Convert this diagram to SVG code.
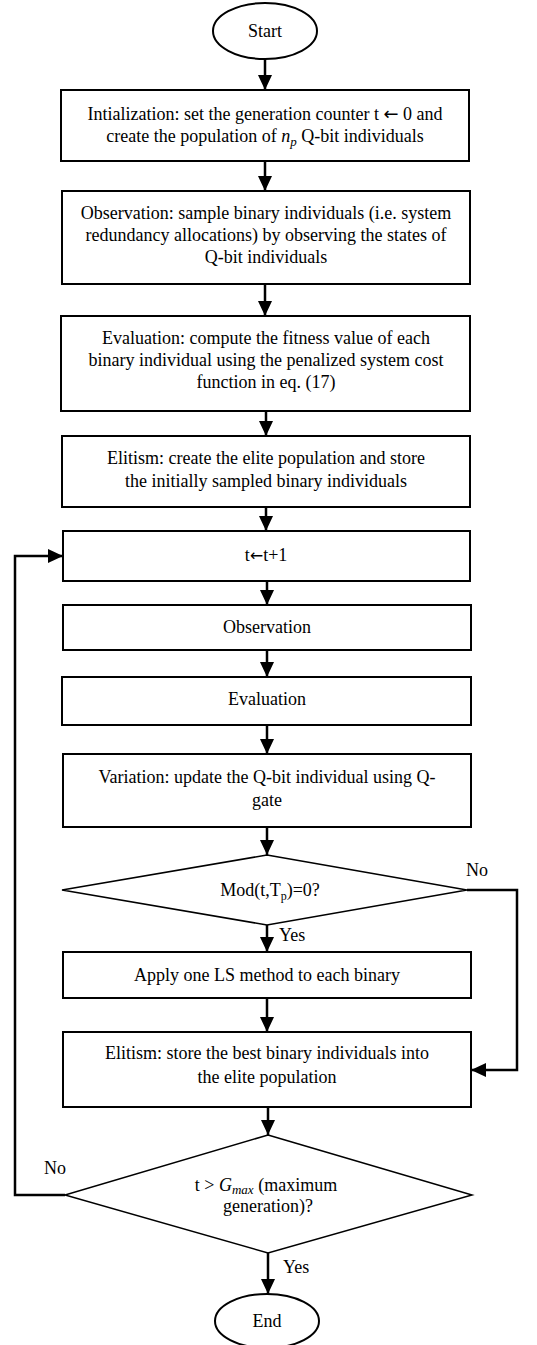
<svg xmlns="http://www.w3.org/2000/svg" width="537" height="1345" viewBox="0 0 537 1345">
<style>
.box{fill:#fff;stroke:#000;stroke-width:2}
.dia{fill:#fff;stroke:#000;stroke-width:1.5}
.t{font-family:"Liberation Serif","Times New Roman",serif;font-size:18px;fill:#000;text-anchor:middle}
.lbl{font-family:"Liberation Serif","Times New Roman",serif;font-size:18px;fill:#000}
.c{fill:none;stroke:#000;stroke-width:2.5}
.ar{font-family:"DejaVu Sans",sans-serif}
</style>
<defs>
<marker id="ah" markerUnits="userSpaceOnUse" viewBox="0 0 15 14" refX="15" refY="7" markerWidth="15" markerHeight="14" orient="auto">
<path d="M0,0 L15,7 L0,14 z" fill="#000"/>
</marker>
</defs>
<rect width="537" height="1345" fill="#fff"/>
<g id="connectors">
<path class="c" d="M265,59 V90" marker-end="url(#ah)"/>
<path class="c" d="M265,161 V191" marker-end="url(#ah)"/>
<path class="c" d="M265,284 V316" marker-end="url(#ah)"/>
<path class="c" d="M266,411 V436" marker-end="url(#ah)"/>
<path class="c" d="M266,507 V531" marker-end="url(#ah)"/>
<path class="c" d="M267,581 V605" marker-end="url(#ah)"/>
<path class="c" d="M267,650 V677" marker-end="url(#ah)"/>
<path class="c" d="M267,725 V754" marker-end="url(#ah)"/>
<path class="c" d="M267,827 V855" marker-end="url(#ah)"/>
<path class="c" d="M267,925 V952" marker-end="url(#ah)"/>
<path class="c" d="M267,998 V1032" marker-end="url(#ah)"/>
<path class="c" d="M268,1107 V1135" marker-end="url(#ah)"/>
<path class="c" d="M268,1253 V1294" marker-end="url(#ah)"/>
<path class="c" d="M467,890 H517 V1070 H471" marker-end="url(#ah)"/>
<path class="c" d="M65,1195 H15 V556 H63" marker-end="url(#ah)"/>
<text class="lbl" x="466" y="876">No</text>
<text class="lbl" x="279" y="941">Yes</text>
<text class="lbl" x="44" y="1174">No</text>
<text class="lbl" x="283" y="1273">Yes</text>
</g>
<g id="start">
<ellipse class="box" cx="265" cy="31" rx="52" ry="28"/>
<text class="t" x="265" y="37">Start</text>
</g>
<g id="init">
<rect class="box" x="61" y="90" width="408" height="71"/>
<text class="t" x="265" y="120">Intialization: set the generation counter t <tspan class="ar">←</tspan> 0 and</text>
<text class="t" x="265" y="142">create the population of <tspan font-style="italic">n</tspan><tspan font-style="italic" font-size="13" dy="4">p</tspan><tspan dy="-4"> Q-bit individuals</tspan></text>
</g>
<g id="observation1">
<rect class="box" x="62" y="191" width="408" height="93"/>
<text class="t" x="266" y="219">Observation: sample binary individuals (i.e. system</text>
<text class="t" x="266" y="241">redundancy allocations) by observing the states of</text>
<text class="t" x="266" y="263">Q-bit individuals</text>
</g>
<g id="evaluation1">
<rect class="box" x="61" y="316" width="409" height="95"/>
<text class="t" x="266" y="344">Evaluation: compute the fitness value of each</text>
<text class="t" x="266" y="366">binary individual using the penalized system cost</text>
<text class="t" x="266" y="388">function in eq. (17)</text>
</g>
<g id="elitism1">
<rect class="box" x="62" y="436" width="408" height="71"/>
<text class="t" x="266" y="464">Elitism: create the elite population and store</text>
<text class="t" x="266" y="487">the initially sampled binary individuals</text>
</g>
<g id="increment">
<rect class="box" x="63" y="531" width="407" height="50"/>
<text class="t" x="266" y="561">t<tspan class="ar" font-size="16">←</tspan>t+1</text>
</g>
<g id="observation2">
<rect class="box" x="63" y="605" width="408" height="45"/>
<text class="t" x="267" y="633">Observation</text>
</g>
<g id="evaluation2">
<rect class="box" x="62" y="677" width="409" height="48"/>
<text class="t" x="267" y="705">Evaluation</text>
</g>
<g id="variation">
<rect class="box" x="63" y="754" width="408" height="73"/>
<text class="t" x="267" y="783">Variation: update the Q-bit individual using Q-</text>
<text class="t" x="267" y="806">gate</text>
</g>
<g id="decision1">
<polygon class="dia" points="267,855 467,890 267,925 62,890"/>
<text class="t" x="270" y="896">Mod(t,T<tspan font-size="12" dy="4">p</tspan><tspan dy="-4">)=0?</tspan></text>
</g>
<g id="localsearch">
<rect class="box" x="63" y="952" width="408" height="46"/>
<text class="t" x="267" y="981">Apply one LS method to each binary</text>
</g>
<g id="elitism2">
<rect class="box" x="63" y="1032" width="408" height="75"/>
<text class="t" x="267" y="1059">Elitism: store the best binary individuals into</text>
<text class="t" x="267" y="1083">the elite population</text>
</g>
<g id="decision2">
<polygon class="dia" points="268,1135 472,1195 268,1253 65,1195"/>
<text class="t" x="266" y="1191">t &gt; <tspan font-style="italic">G</tspan><tspan font-style="italic" font-size="13" dy="3">max</tspan><tspan dy="-3">  (maximum</tspan></text>
<text class="t" x="268" y="1212">generation)?</text>
</g>
<g id="end">
<ellipse class="box" cx="267" cy="1321" rx="52" ry="27"/>
<text class="t" x="267" y="1327">End</text>
</g>
</svg>
